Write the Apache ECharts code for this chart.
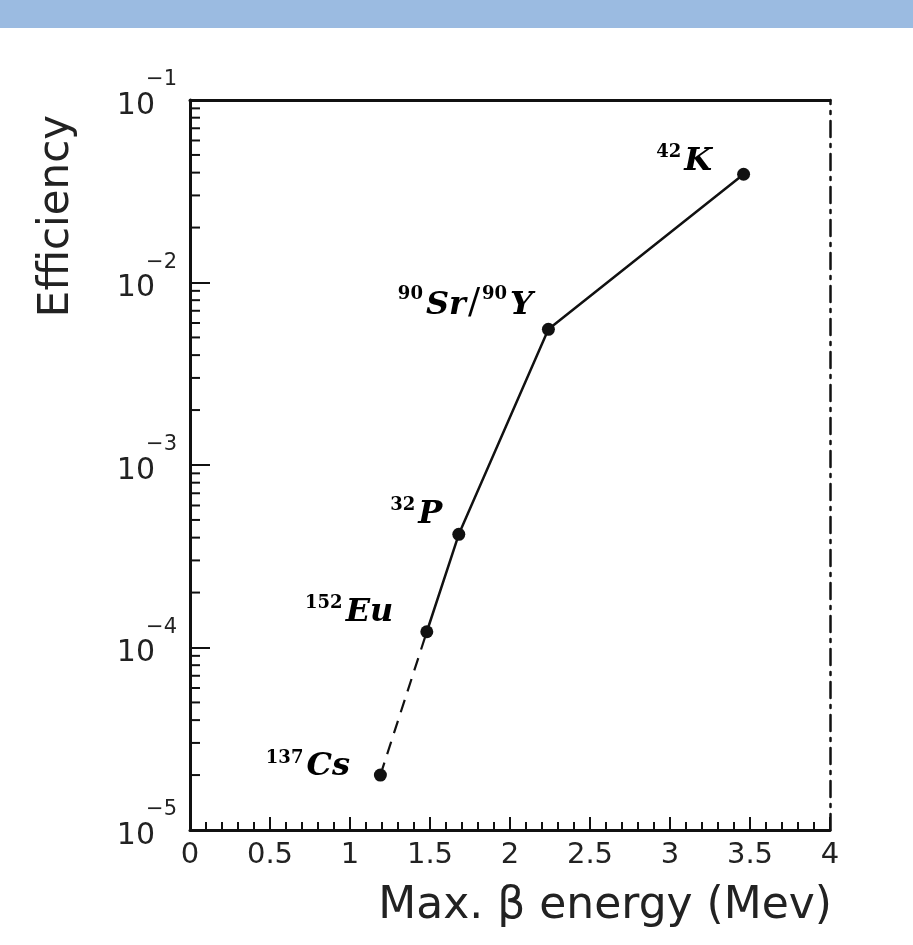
<!DOCTYPE html>
<html>
<head>
<meta charset="utf-8">
<script src="https://cdn.jsdelivr.net/npm/echarts@6/dist/echarts.min.js"></script>
<style>
html,body{margin:0;padding:0;background:#fff;}
#chart{width:913px;height:945px;}
</style>
</head>
<body>
<div id="chart"></div>
<script>
// ---- data ----
const nuclideLabels = ['137Cs', '152Eu', '32P', '90Sr/90Y', '42K'];
const maxBetaEnergy = [1.19, 1.48, 1.68, 2.24, 3.46];      // MeV
const efficiency    = [2.0e-5, 1.22e-4, 4.17e-4, 5.54e-3, 3.92e-2];
const xTickValues   = [0, 0.5, 1, 1.5, 2, 2.5, 3, 3.5, 4];
const yExponents    = [-5, -4, -3, -2, -1];
const yMinorTicks   = [];
for (let e = -5; e < -1; e++) { for (let m = 2; m <= 9; m++) yMinorTicks.push(m * Math.pow(10, e)); }

// label placement (layout, not data)
const labelOffsets = [[-24, -9], [-27, -20], [-10, -21], [-9, -26], [-25, -14]];

const INK = '#111';
const points = maxBetaEnergy.map((x, i) => [x, efficiency[i]]);
const dashedPart = points.slice(0, 2);
const solidPart = points.slice(1);

function richLabel(s) {
  return s.split('/').map(part => part.replace(/^(\d+)([A-Za-z]+)$/, '{sup|$1}{m|$2}')).join('{sl|/}');
}

const chart = echarts.init(document.getElementById('chart'), null, {renderer: 'canvas'});
const serif = 'DejaVu Serif';
const sans = 'DejaVu Sans';

chart.setOption({
  backgroundColor: '#fff',
  animation: false,
  grid: {left: 190, right: 83, top: 100, bottom: 115, show: false},
  graphic: [
    {type: 'rect', left: 0, top: 0, shape: {width: 913, height: 28}, style: {fill: '#9BBBE1'}, z: 0},
    {type: 'text', x: 57, y: 216, rotation: Math.PI / 2,
      style: {text: 'Efficiency', font: '42px "DejaVu Sans"', fill: '#222',
        align: 'center', verticalAlign: 'middle', textAlign: 'center', textVerticalAlign: 'middle'}},
    {type: 'text', x: 832, y: 907,
      style: {text: 'Max. β energy (Mev)', font: '44px "DejaVu Sans"', fill: '#222',
        align: 'right', verticalAlign: 'middle', textAlign: 'right', textVerticalAlign: 'middle'}}
  ],
  xAxis: [
    {
      type: 'value', min: 0, max: 4, interval: 0.5, position: 'bottom',
      axisLine: {show: true, onZero: false, lineStyle: {color: INK, width: 3}},
      axisTick: {show: true, inside: true, length: 13, lineStyle: {color: INK, width: 2}},
      minorTick: {show: true, splitNumber: 5, length: 8, lineStyle: {color: INK, width: 2}},
      splitLine: {show: false},
      axisLabel: {
        margin: 11, color: '#222', fontFamily: sans, fontSize: 29,
        formatter: v => { const t = xTickValues.find(k => Math.abs(k - v) < 1e-9); return t === undefined ? '' : String(t); }
      }
    },
    {
      type: 'value', min: 0, max: 4, position: 'top',
      axisLine: {show: true, onZero: false, lineStyle: {color: INK, width: 3}},
      axisTick: {show: false}, axisLabel: {show: false}, splitLine: {show: false}
    }
  ],
  yAxis: [
    {
      type: 'log', logBase: 10, min: 1e-5, max: 1e-1, position: 'left',
      axisLine: {show: true, onZero: false, lineStyle: {color: INK, width: 3}},
      axisTick: {show: true, inside: true, length: 20, lineStyle: {color: INK, width: 2}},
      splitLine: {show: false},
      axisLabel: {
        margin: 13, color: '#222', align: 'right',
        formatter: v => {
          const e = Math.round(Math.log10(v));
          if (!yExponents.includes(e)) return '';
          return '{s|−' + (-e) + '}\n{b|10}';
        },
        rich: {
          s: {fontFamily: sans, fontSize: 21, lineHeight: 22, align: 'right', color: '#222'},
          b: {fontFamily: sans, fontSize: 30, lineHeight: 40, verticalAlign: 'top', align: 'right', padding: [0, 22, 0, 0], color: '#222'}
        }
      }
    },
    {
      type: 'log', logBase: 10, min: 1e-5, max: 1e-1, position: 'right',
      axisLine: {show: true, onZero: false, lineStyle: {color: INK, width: 2.5, type: [16, 7, 3, 7]}},
      axisTick: {show: false}, axisLabel: {show: false}, splitLine: {show: false}
    }
  ],
  series: [
    {
      type: 'custom', xAxisIndex: 0, yAxisIndex: 0, silent: true,
      data: yMinorTicks.map(v => [0, v]),
      renderItem: (params, api) => {
        const p = api.coord([0, api.value(1)]);
        return {type: 'line', shape: {x1: p[0], y1: p[1], x2: p[0] + 10, y2: p[1]},
          style: {stroke: INK, lineWidth: 2}};
      },
      z: 3
    },
    {
      type: 'line', data: dashedPart, showSymbol: false, silent: true,
      lineStyle: {color: INK, width: 2.2, type: [13, 9]}, z: 2
    },
    {
      type: 'line', data: solidPart, showSymbol: false, silent: true,
      lineStyle: {color: INK, width: 2.5}, z: 2
    },
    {
      type: 'scatter', symbol: 'circle', symbolSize: 13, silent: true,
      itemStyle: {color: INK, opacity: 1},
      data: points.map((p, i) => ({
        value: p,
        label: {
          show: true, position: 'left', distance: 0, offset: labelOffsets[i], opacity: 1,
          formatter: richLabel(nuclideLabels[i]),
          rich: {
            m: {fontFamily: serif, fontStyle: 'italic', fontWeight: 'bold', fontSize: 32, lineHeight: 34, verticalAlign: 'bottom', color: '#000'},
            sup: {fontFamily: serif, fontWeight: 'bold', fontSize: 18, lineHeight: 18, verticalAlign: 'top', color: '#000', padding: [0, 3, 0, 0]},
            sl: {fontFamily: serif, fontSize: 36, lineHeight: 36, verticalAlign: 'middle', color: '#000', padding: [0, 2, 0, 2]}
          }
        }
      })),
      z: 4
    }
  ]
});
</script>
</body>
</html>
